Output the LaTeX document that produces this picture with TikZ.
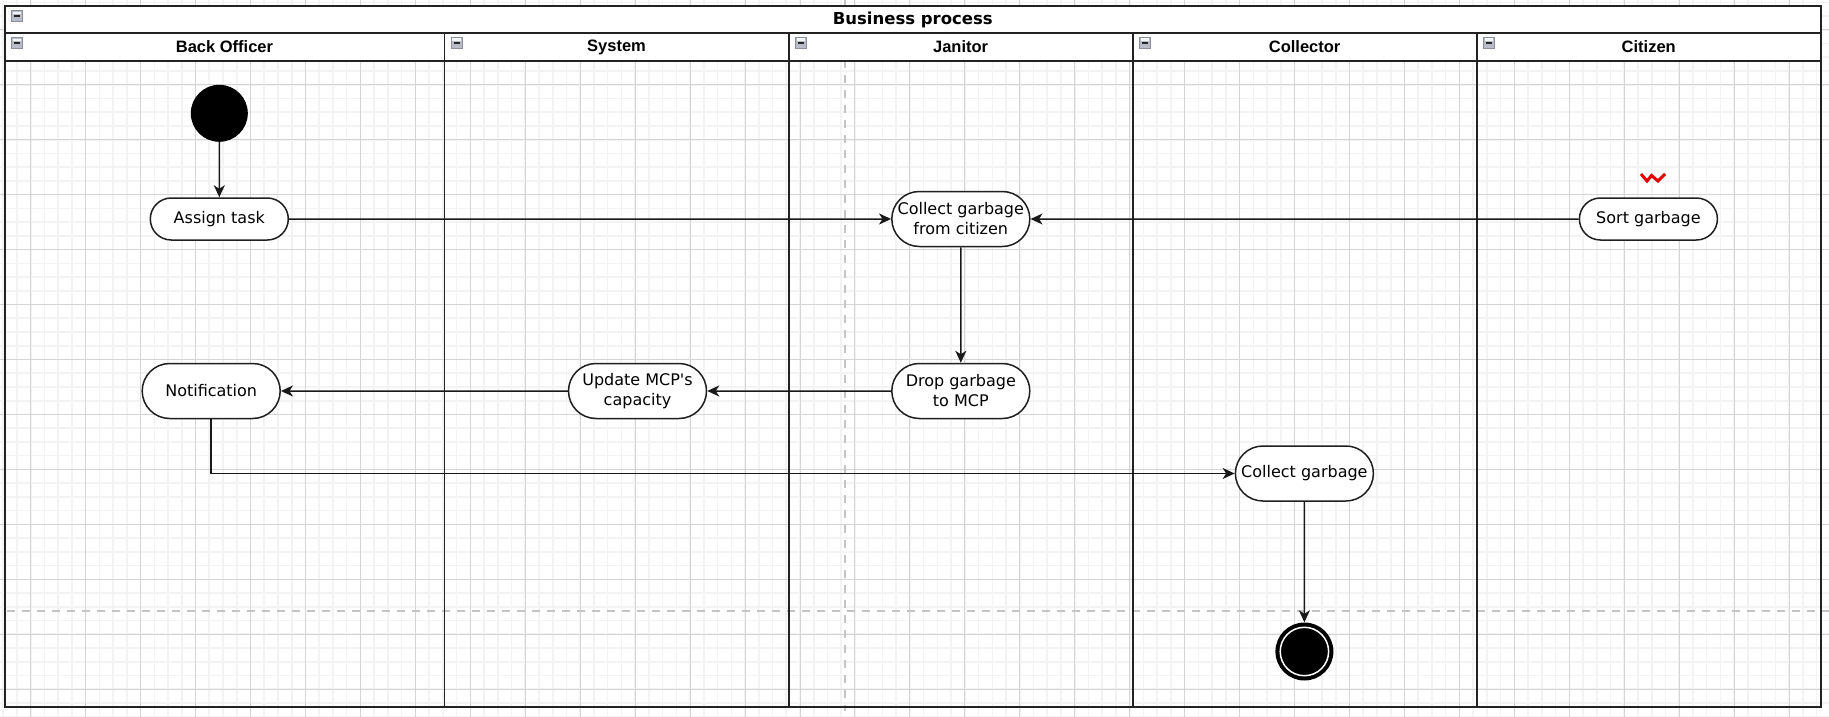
\documentclass[tikz,border=0pt]{standalone}
\usepackage{fontspec}
\setmainfont{DejaVu Sans}
\newfontfamily\actfont{DejaVu Sans}
\newfontfamily\lanefont{Liberation Sans}
\newfontfamily\titlefont{DejaVu Sans}
\usetikzlibrary{arrows.meta,shapes.misc}
\definecolor{minorg}{HTML}{F3F3F3}
\definecolor{majorg}{HTML}{D4D4D4}
\definecolor{guide}{HTML}{C4C4C4}
\definecolor{frame}{HTML}{222222}
\definecolor{iconfill}{HTML}{B8BCC6}
\definecolor{icondraw}{HTML}{8A8F9A}
\begin{document}
\begin{tikzpicture}[x=1pt,y=-1pt,
  minorline/.style={draw=minorg,line width=1.6pt},
  majorline/.style={draw=majorg,line width=1pt},
  guideline/.style={draw=guide,line width=2pt,dash pattern=on 8pt off 7pt},
  frameline/.style={draw=frame,line width=2pt},
  laneline/.style={draw=frame,line width=1.8pt},
  lanetitle/.style={font=\lanefont\bfseries\fontsize{16.5}{19}\selectfont,inner sep=0pt},
  acttext/.style={font=\actfont\fontsize{16}{20}\selectfont},
  act/.style={rounded rectangle,draw=black!88,line width=1.5pt,fill=white,
    minimum width=138pt,minimum height=42pt,inner sep=0pt,align=center,acttext},
  acttall/.style={act,minimum height=55pt},
  conn/.style={draw=black!90,line width=1.5pt,-{Stealth[length=12pt,width=11pt,inset=3.5pt]}},
  minusicon/.pic={
    \path[fill=iconfill,draw=icondraw,line width=0.8pt] (0,0) rectangle (11,11);
    \path[fill=white!85!iconfill] (1.2,1.2) rectangle (9.8,4);
    \draw[line width=1.6pt,black!85] (2.3,5.6) -- (8.7,5.6);
  }]
\useasboundingbox (0,0) rectangle (1829,717);
\fill[white] (0,0) rectangle (1829,717);
% grid
\foreach \i in {-2,...,131} {\draw[minorline] ({30.7+13.7375*\i},0) -- ({30.7+13.7375*\i},717);}
\foreach \j in {-2,...,51} {\draw[minorline] (0,{29.8+13.7375*\j}) -- (1829,{29.8+13.7375*\j});}
\foreach \i in {0,...,33} {\draw[majorline] ({30.7+54.95*\i},0) -- ({30.7+54.95*\i},717);}
\foreach \j in {0,...,12} {\draw[majorline] (0,{29.8+54.95*\j}) -- (1829,{29.8+54.95*\j});}
% guides
\draw[guideline] (844.5,0) -- (844.5,711);
\draw[guideline] (7,611) -- (1829,611);
% pool frame and header bands
\path[fill=white] (4.6,5.7) rectangle (1821,61);
\draw[frameline] (4.6,5.7) rectangle (1821,706.7);
\draw[laneline] (4.6,33) -- (1821,33);
\draw[laneline] (4.6,61) -- (1821,61);
\foreach \x in {444.4,788.7,1132.7,1476.6} {\draw[laneline] (\x,33) -- (\x,706.7);}
% titles
\node[font=\titlefont\bfseries\fontsize{16.5}{19}\selectfont,inner sep=0pt] (pooltitle) at (912.8,20) {Business process};
\node[lanetitle] (lane1) at (224.5,47) {Back Officer};
\node[lanetitle] (lane2) at (616.5,47) {System};
\node[lanetitle] (lane3) at (960.6,47) {Janitor};
\node[lanetitle] (lane4) at (1304.6,47) {Collector};
\node[lanetitle] (lane5) at (1648.7,47) {Citizen};
% collapse icons
\pic at (11.5,10.5) {minusicon};
\pic at (11.5,37.5) {minusicon};
\pic at (451.2,37.3) {minusicon};
\pic at (795.5,37.3) {minusicon};
\pic at (1139.5,37.3) {minusicon};
\pic at (1483.5,37.3) {minusicon};
% red mark
\draw[draw=red!90!black,line width=3pt,line join=miter] (1641,174) -- (1647,181) -- (1651.5,175.5) -- (1658,181) -- (1665,174);
% activity nodes
\node[circle,fill=black,draw=black,line width=1pt,minimum size=56pt,inner sep=0pt] (start) at (219.3,113.3) {};
\node[act] (assign) at (219.3,219) {Assign task};
\node[acttall] (collectc) at (960.8,219) {Collect garbage\\from citizen};
\node[act] (sort) at (1648.4,219) {Sort garbage};
\node[acttall] (notif) at (211.2,391) {Notification};
\node[acttall] (update) at (637.5,391) {Update MCP's\\capacity};
\node[acttall] (drop) at (960.8,391) {Drop garbage\\to MCP};
\node[acttall] (collect) at (1304.4,473.5) {Collect garbage};
\node[circle,fill=black,minimum size=58pt,inner sep=0pt] (finish) at (1304.4,651.5) {};
\draw[white,line width=1.5pt] (finish.center) circle (24.2);
% connectors
\draw[conn] (start) -- (assign);
\draw[conn] (assign) -- (collectc);
\draw[conn] (sort) -- (collectc);
\draw[conn] (collectc) -- (drop);
\draw[conn] (drop) -- (update);
\draw[conn] (update) -- (notif);
\draw[conn] (notif.south) |- (collect.west);
\draw[conn] (collect) -- (finish);
\end{tikzpicture}
\end{document}
